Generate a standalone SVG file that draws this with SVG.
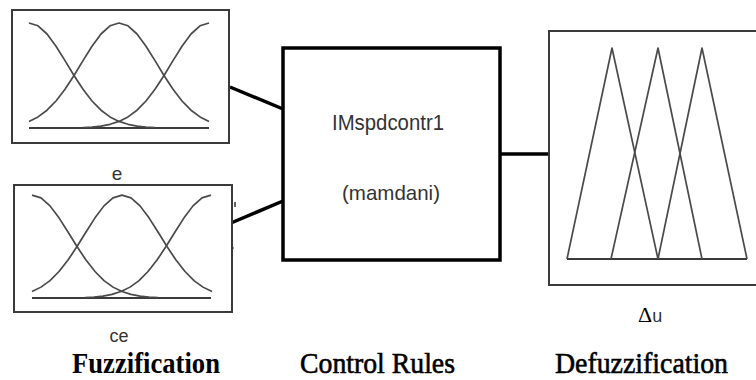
<svg xmlns="http://www.w3.org/2000/svg" xmlns:xlink="http://www.w3.org/1999/xlink" width="756" height="380" viewBox="0 0 756 380">
<style>
.frame{fill:#fff;stroke:#3a3a3a;stroke-width:2}
.curve{fill:none;stroke:#4a4a4a;stroke-width:1.7;stroke-linejoin:round}
.base{fill:none;stroke:#3a3a3a;stroke-width:2}
.rule{fill:#fff;stroke:#000;stroke-width:3.5}
.conn{fill:none;stroke:#000;stroke-width:3.5}
.sans{font-family:"Liberation Sans",Arial,sans-serif;fill:#333}
.cap{font-family:"Liberation Serif","Times New Roman",serif;fill:#000;font-size:30px;text-anchor:middle}
</style>
<defs>
<path id="half" d="M0,-105 L9,-102.2 L18,-94 L27,-81.8 L36,-67.4 L45,-52.5 L54,-38.7 L63,-27 L72,-17.8 L81,-11.1 L90,-6.6 L99,-3.7 L108,-1.9 L117,-1 L126,-0.5"/>
<path id="full" d="M-90,-6.6 L-81,-11.1 L-72,-17.8 L-63,-27 L-54,-38.7 L-45,-52.5 L-36,-67.4 L-27,-81.8 L-18,-94 L-9,-102.2 L0,-105 L9,-102.2 L18,-94 L27,-81.8 L36,-67.4 L45,-52.5 L54,-38.7 L63,-27 L72,-17.8 L81,-11.1 L90,-6.6"/>
</defs>

<g id="connectors">
<line class="conn" x1="230" y1="87" x2="283" y2="109"/>
<line class="conn" x1="231" y1="223" x2="283" y2="201"/>
<line class="conn" x1="500" y1="154" x2="549" y2="154"/>
</g>

<g id="fuzz-e">
<rect class="frame" x="12" y="10" width="217" height="133"/>
<line class="base" x1="29" y1="128" x2="209" y2="128"/>
<use xlink:href="#half" class="curve" transform="translate(29,128)"/>
<use xlink:href="#full" class="curve" transform="translate(119,128)"/>
<use xlink:href="#half" class="curve" transform="translate(209,128) scale(-1,1)"/>
<text class="sans" x="117" y="180" font-size="19" text-anchor="middle">e</text>
</g>

<g id="fuzz-ce">
<rect class="frame" x="14" y="185" width="218" height="127"/>
<line class="base" x1="32" y1="298" x2="211" y2="298"/>
<use xlink:href="#half" class="curve" transform="translate(32,298) scale(1,0.98)"/>
<use xlink:href="#full" class="curve" transform="translate(122,298) scale(1,0.98)"/>
<use xlink:href="#half" class="curve" transform="translate(211,298) scale(-1,0.98)"/>
<line x1="235" y1="202" x2="235" y2="207" stroke="#333" stroke-width="1.5"/>
<circle cx="232.5" cy="248" r="1.2" fill="#333"/>
<text class="sans" x="119" y="342" font-size="18" text-anchor="middle">ce</text>
</g>

<g id="rules">
<rect class="rule" x="283" y="48" width="217" height="212"/>
<text class="sans" x="388" y="130" font-size="22" text-anchor="middle" textLength="112" lengthAdjust="spacingAndGlyphs">IMspdcontr1</text>
<text class="sans" x="391" y="200" font-size="21" text-anchor="middle" textLength="98" lengthAdjust="spacingAndGlyphs">(mamdani)</text>
</g>

<g id="defuzz">
<rect class="frame" x="549" y="31" width="220" height="254"/>
<line class="base" x1="567" y1="259" x2="747" y2="259"/>
<polyline class="curve" points="567,259 612,48 658,259"/>
<polyline class="curve" points="611,259 658,48 702,259"/>
<polyline class="curve" points="658,259 702,48 747,259"/>
<text x="638" y="322" fill="#000"><tspan font-family="Liberation Serif,serif" font-size="22">Δ</tspan><tspan class="sans" font-size="18">u</tspan></text>
</g>

<g id="captions">
<text class="cap" x="146" y="373" font-weight="bold" textLength="148" lengthAdjust="spacingAndGlyphs">Fuzzification</text>
<text class="cap" x="377.5" y="373" stroke="#000" stroke-width="0.6" textLength="155" lengthAdjust="spacingAndGlyphs">Control Rules</text>
<text class="cap" x="641.5" y="373" stroke="#000" stroke-width="0.6" textLength="173" lengthAdjust="spacingAndGlyphs">Defuzzification</text>
</g>
</svg>
